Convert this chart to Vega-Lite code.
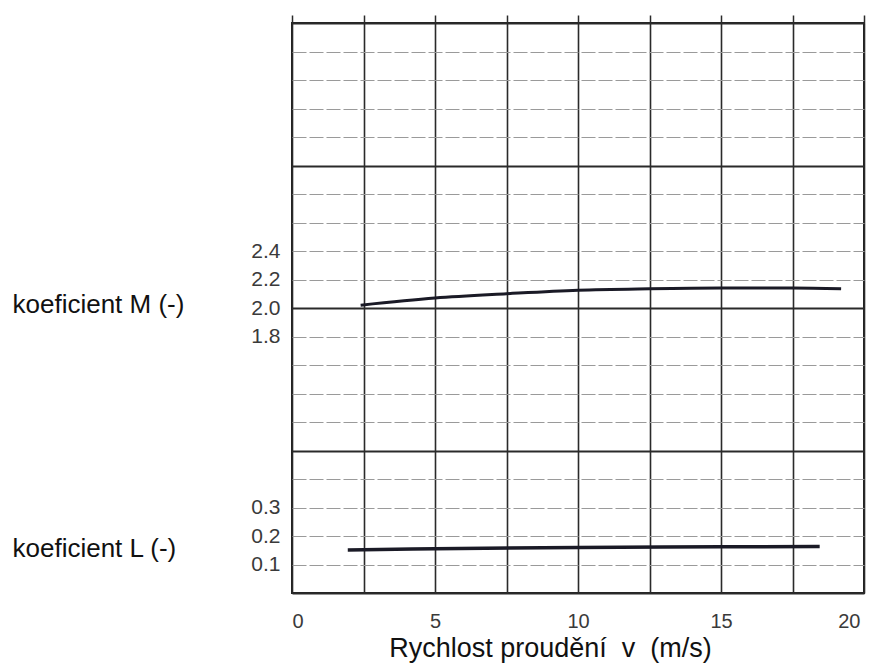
{
  "$schema": "https://vega.github.io/schema/vega-lite/v6.json",
  "width": 572,
  "height": 570,
  "autosize": "none",
  "padding": {"left": 292, "top": 23, "right": 5, "bottom": 70},
  "background": "white",
  "config": {
    "view": {"stroke": "#222", "strokeWidth": 2},
    "font": "Liberation Sans",
    "axis": {"labelFont": "Liberation Sans", "titleFont": "Liberation Sans", "titleFontWeight": "normal", "labelColor": "#3a3a3a", "titleColor": "#111"}
  },
  "datasets": {
    "M": [
      {"v": 2.4, "M": 2.02},
      {"v": 5.0, "M": 2.07},
      {"v": 7.5, "M": 2.10},
      {"v": 10.0, "M": 2.125},
      {"v": 12.5, "M": 2.135},
      {"v": 15.0, "M": 2.14},
      {"v": 17.5, "M": 2.14},
      {"v": 19.2, "M": 2.135}
    ],
    "L": [
      {"v": 1.95, "L": 0.151},
      {"v": 5.0, "L": 0.155},
      {"v": 10.0, "L": 0.16},
      {"v": 15.0, "L": 0.162},
      {"v": 18.45, "L": 0.163}
    ]
  },
  "layer": [
    {
      "data": {"name": "M"},
      "mark": {"type": "line", "color": "#1a1a26", "strokeWidth": 3, "interpolate": "monotone"},
      "encoding": {
        "x": {
          "field": "v", "type": "quantitative",
          "scale": {"domain": [0, 20], "nice": false, "zero": false},
          "axis": {
            "orient": "bottom",
            "values": [0, 2.5, 5, 7.5, 10, 12.5, 15, 17.5, 20],
            "labelExpr": "datum.value % 5 == 0 ? format(datum.value, 'd') : ''",
            "labelOffset": {"condition": {"test": "datum.value == 20", "value": -4}, "value": 0},
            "grid": true, "gridColor": "#2a2a2a", "gridWidth": 1.6,
            "ticks": false, "domain": false,
            "labelFontSize": 20, "labelPadding": 18,
            "title": "Rychlost proudění\u00a0 v\u00a0 (m/s)",
            "titleFontSize": 27, "titlePadding": 4,
            "titleX": 258, "titleAlign": "center"
          }
        },
        "y": {
          "field": "M", "type": "quantitative",
          "scale": {"domain": [0, 4], "nice": false, "zero": false},
          "axis": {
            "orient": "left",
            "values": [0, 0.2, 0.4, 0.6, 0.8, 1, 1.2, 1.4, 1.6, 1.8, 2, 2.2, 2.4, 2.6, 2.8, 3, 3.2, 3.4, 3.6, 3.8, 4],
            "labelExpr": "datum.value > 1.75 && datum.value < 2.45 ? format(datum.value, '.1f') : ''",
            "grid": true,
            "gridColor": {"condition": {"test": "abs(datum.value - round(datum.value)) < 0.001", "value": "#2a2a2a"}, "value": "#9a9a9a"},
            "gridWidth": {"condition": {"test": "abs(datum.value - round(datum.value)) < 0.001", "value": 2}, "value": 1.1},
            "gridDash": {"condition": {"test": "abs(datum.value - round(datum.value)) < 0.001", "value": []}, "value": [14, 3]},
            "ticks": false, "domain": false,
            "labelFontSize": 21, "labelPadding": 12,
            "title": "koeficient M (-)",
            "titleAngle": 0, "titleAlign": "left", "titleBaseline": "middle",
            "titleX": -280, "titleY": 281, "titleFontSize": 26
          }
        }
      }
    },
    {
      "data": {"name": "L"},
      "mark": {"type": "line", "color": "#1a1a26", "strokeWidth": 3.5, "interpolate": "monotone"},
      "encoding": {
        "x": {
          "field": "v", "type": "quantitative",
          "axis": {
            "orient": "top",
            "values": [0, 2.5, 5, 7.5, 10, 12.5, 15, 17.5, 20],
            "labels": false, "grid": false, "domain": false,
            "ticks": true, "tickSize": 8, "tickWidth": 1.5, "tickColor": "#2a2a2a",
            "title": null
          }
        },
        "y": {
          "field": "L", "type": "quantitative",
          "scale": {"domain": [0, 2], "nice": false, "zero": false},
          "axis": {
            "orient": "left",
            "values": [0.1, 0.2, 0.3],
            "format": ".1f",
            "grid": false, "ticks": false, "domain": false,
            "labelFontSize": 21, "labelPadding": 12,
            "title": "koeficient L (-)",
            "titleAngle": 0, "titleAlign": "left", "titleBaseline": "middle",
            "titleX": -280, "titleY": 525, "titleFontSize": 26
          }
        }
      }
    }
  ],
  "resolve": {"scale": {"y": "independent"}, "axis": {"x": "independent", "y": "independent"}}
}
